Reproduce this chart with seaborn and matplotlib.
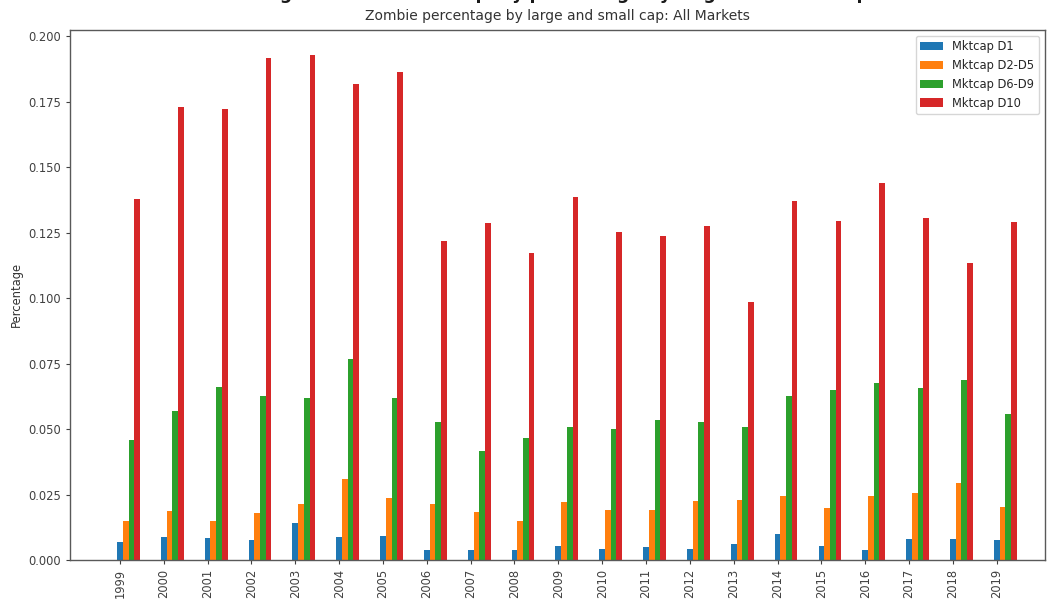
#py3!

import pandas as pd
import numpy as np
import matplotlib
matplotlib.use("Agg")
import matplotlib.pyplot as plt
import seaborn as sns

"""zombie share per market-cap bucket, all markets"""
years = list(range(1999, 2020))
groups = ['Mktcap D1', 'Mktcap D2-D5', 'Mktcap D6-D9', 'Mktcap D10']
colors = ['#1f77b4', '#ff7f0e', '#2ca02c', '#d62728']

d1 = [0.0070, 0.0089, 0.0085, 0.0076, 0.0141, 0.0089, 0.0093, 0.0038, 0.0038, 0.0038, 0.0055,
      0.0042, 0.0051, 0.0042, 0.0061, 0.0098, 0.0055, 0.0038, 0.0079, 0.0079, 0.0075]
d2_5 = [0.0150, 0.0187, 0.0150, 0.0178, 0.0215, 0.0311, 0.0237, 0.0215, 0.0182, 0.0150, 0.0220,
        0.0192, 0.0192, 0.0224, 0.0229, 0.0246, 0.0199, 0.0246, 0.0256, 0.0293, 0.0204]
d6_9 = [0.0460, 0.0568, 0.0660, 0.0625, 0.0620, 0.0768, 0.0620, 0.0526, 0.0418, 0.0466, 0.0507,
        0.0502, 0.0536, 0.0526, 0.0507, 0.0627, 0.0651, 0.0674, 0.0656, 0.0688, 0.0557]
d10 = [0.1379, 0.1731, 0.1722, 0.1917, 0.1928, 0.1816, 0.1863, 0.1217, 0.1286, 0.1172, 0.1388,
       0.1252, 0.1238, 0.1274, 0.0984, 0.1371, 0.1294, 0.1441, 0.1307, 0.1134, 0.1289]

# long format for seaborn
df = pd.DataFrame({'Year': years, groups[0]: d1, groups[1]: d2_5,
                   groups[2]: d6_9, groups[3]: d10})
df = df.melt(id_vars='Year', var_name='Group', value_name='Percentage')

sns.set_style('ticks')
plt.rcParams['font.family'] = ['DejaVu Sans']

bar_w = 0.13
shift = 1.5 * bar_w   # first bar of a group sits on the tick
fig = plt.figure(figsize=(10.54, 6.10), dpi=100)
ax = fig.add_axes([0.0664, 0.082, 0.925, 0.869])

sns.barplot(data=df, x='Year', y='Percentage', hue='Group', hue_order=groups,
            palette=colors, native_scale=True, width=bar_w * len(groups),
            saturation=1, errorbar=None, linewidth=0, ax=ax)

ax.set_xticks(np.array(years) - shift)
ax.set_xticklabels([str(y) for y in years], rotation=90)
ax.set_xlim(1997.86 - shift, 2020.1 - shift)
ax.set_xlabel('')
ax.set_ylabel('Percentage', fontsize=8.3, color='.2')
ax.tick_params(labelsize=8.3, colors='.25', length=3)
for s in ax.spines.values():
    s.set_color('.35')
    s.set_linewidth(1.0)

ax.set_title('Zombie percentage by large and small cap: All Markets',
             fontsize=10, color='.2', pad=7)
sns.move_legend(ax, 'upper right', title=None, fontsize=8.3, frameon=True)

# heading above the plot, cut by the top edge as in the source image
fig.text(0.537, 1.0016, 'Figure 1: Zombie company percentage by large and small cap',
         ha='center', va='baseline', fontsize=12.5, fontweight='bold', color='.1')

fig.savefig('out.png', dpi=100)
